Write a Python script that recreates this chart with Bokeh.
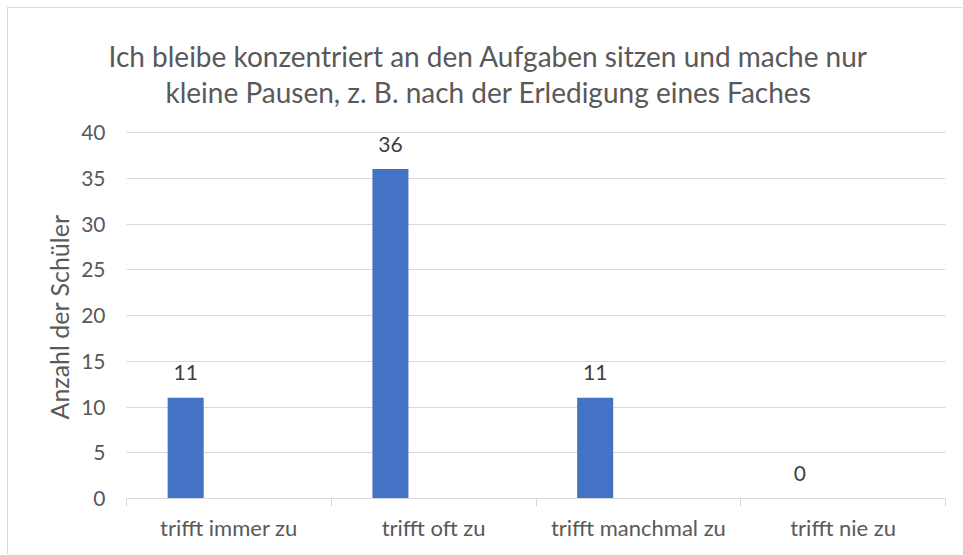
from bokeh.plotting import figure
from bokeh.models import Range1d, FixedTicker, Title, ColumnDataSource
from bokeh.core.properties import value
from bokeh.embed import file_html
from bokeh.resources import INLINE

categories = ["trifft immer zu", "trifft oft zu", "trifft manchmal zu", "trifft nie zu"]
counts = [11, 36, 11, 0]
y_ticks = [0, 5, 10, 15, 20, 25, 30, 35, 40]
title_lines = ["Ich bleibe konzentriert an den Aufgaben sitzen und mache nur",
               "kleine Pausen, z. B. nach der Erledigung eines Faches"]
y_label = "Anzahl der Schüler"

FONT = "Lato"
GREY = "#595959"

# layout: the value axis (0..40) spans 366 px; the frame reaches 24 px higher
AXIS_PX = 366
EXTRA_PX = 24
y_max = y_ticks[-1]
y_top = y_max * (AXIS_PX + EXTRA_PX) / AXIS_PX

idx = list(range(len(categories)))
bar_x = [i + 0.289 for i in idx]
src = ColumnDataSource(dict(x=bar_x, top=counts, lab=[str(c) for c in counts]))

p = figure(width=955, height=547, output_backend="svg", toolbar_location=None,
           x_range=Range1d(0, len(categories)), y_range=Range1d(0, y_top),
           min_border_left=118, min_border_right=18, min_border_top=124 - EXTRA_PX,
           min_border_bottom=57)
p.outline_line_color = None
p.background_fill_color = "white"
p.border_fill_color = "white"
p.styles = {"margin-left": "7px", "margin-top": "7px",
            "border-left": "1px solid #d9d9d9", "border-top": "1px solid #d9d9d9"}

p.vbar(x="x", top="top", bottom=0, width=0.176, source=src, fill_color="#4472C4", line_color=None)
p.text(x="x", y="top", text="lab", source=src, text_align="center", text_baseline="middle",
       y_offset=-25, text_font=value(FONT), text_font_size="21px", text_color="#404040")

# axes
p.xgrid.visible = False
p.ygrid.grid_line_color = "#d9d9d9"
p.ygrid.grid_line_width = 1.2

xa = p.xaxis[0]
xa.ticker = FixedTicker(ticks=[i + 0.5 for i in idx], minor_ticks=[i for i in range(len(categories) + 1)])
xa.major_label_overrides = {i + 0.5: c for i, c in zip(idx, categories)}
xa.axis_line_color = "#d9d9d9"
xa.axis_line_width = 1.2
xa.major_tick_line_color = None
xa.minor_tick_line_color = "#d9d9d9"
xa.minor_tick_out = 8
xa.minor_tick_in = 0
xa.major_tick_out = 0
xa.major_tick_in = 0
xa.major_label_standoff = 7
xa.major_label_text_font = FONT
xa.major_label_text_font_size = "22px"
xa.major_label_text_color = GREY

ya = p.yaxis[0]
ya.ticker = FixedTicker(ticks=y_ticks)
ya.axis_line_color = None
ya.major_tick_line_color = None
ya.minor_tick_line_color = None
ya.major_tick_out = 0
ya.major_tick_in = 0
ya.major_label_standoff = 21
ya.major_label_text_font = FONT
ya.major_label_text_font_size = "21px"
ya.major_label_text_color = GREY

# y axis title, centred on the 0..40 part of the frame
p.add_layout(Title(text=y_label, align="left", offset=79, text_font=FONT,
                   text_font_size="25px", text_font_style="normal",
                   text_color=GREY, standoff=10), "left")

for line, off in zip(reversed(title_lines), [39, -18]):
    p.add_layout(Title(text=line, align="left", offset=off, text_font=FONT,
                       text_font_size="28px", text_font_style="normal",
                       text_color=GREY, standoff=0), "above")

open("out.html", "w").write(file_html(p, INLINE))
